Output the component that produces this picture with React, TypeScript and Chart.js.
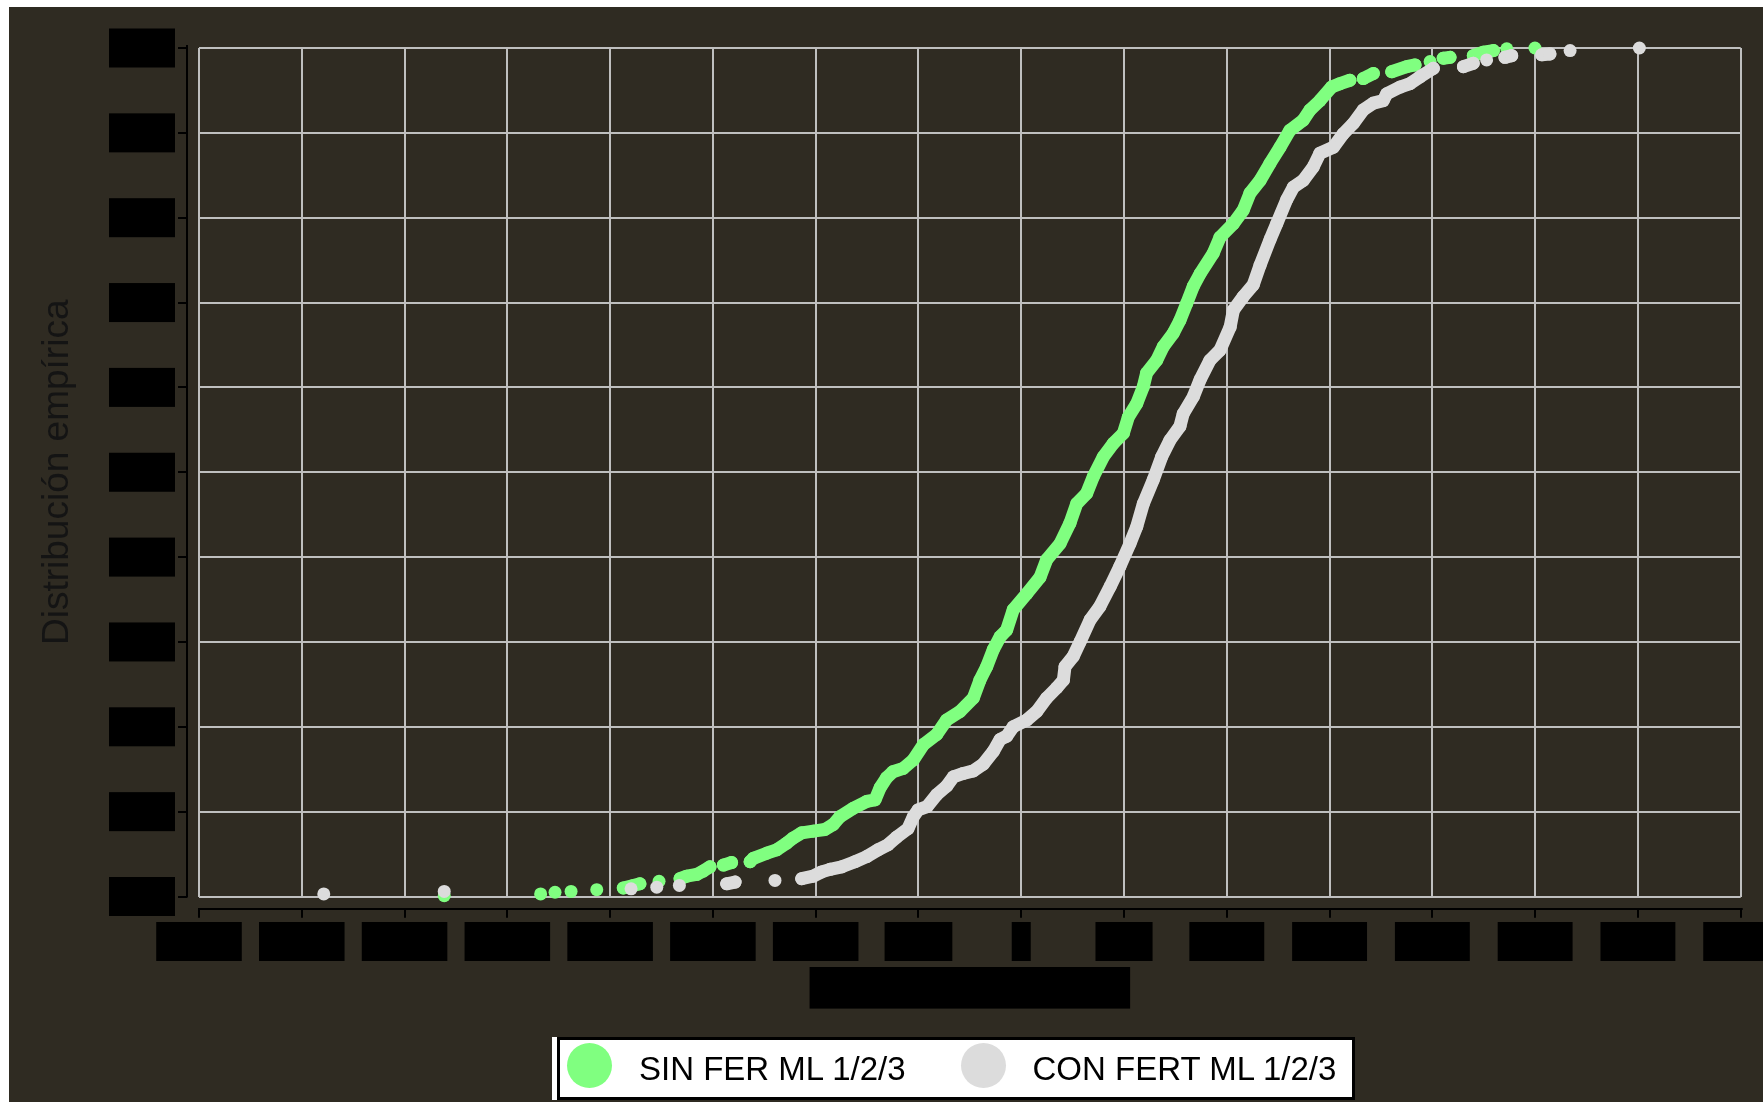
import React, { useEffect, useRef } from 'react';
import { Chart, registerables } from 'chart.js';

Chart.register(...registerables);

// ---------- data ----------
const SERIES_LABELS = ['SIN FER ML 1/2/3', 'CON FERT ML 1/2/3'];
const SERIES_COLORS = ['#80ff80', '#dcdcdc'];

const X_MIN = -400;
const X_MAX = 350;
const X_STEP = 50;
const Y_MIN = 0;
const Y_MAX = 1;
const Y_STEP = 0.1;

const X_TITLE = 'Diferencia (kg/ha)';
const Y_TITLE = 'Distribución empírica';

const sinFerX = [
  -280.7, -233.8, -226.8, -219.0, -206.5, -193.6, -188.7, -185.5, -176.2, -166.0,
  -162.7, -157.9, -154.7, -151.4, -144.9, -140.9, -131.9, -130.3, -123.8, -119.0,
  -114.1, -110.9, -106.8, -101.2, -95.5, -91.4, -88.2, -81.7, -75.2, -71.1,
  -68.7, -65.5, -62.4, -57.4, -52.5, -47.6, -41.1, -36.3, -29.8, -23.3,
  -20.1, -16.8, -13.6, -10.3, -7.1, -3.9, 2.7, 9.1, 12.4, 18.9,
  23.7, 27.0, 31.8, 35.1, 39.9, 44.8, 49.7, 52.1, 56.2, 59.4,
  61.0, 65.9, 69.1, 74.0, 77.2, 80.5, 83.7, 87.0, 93.4, 96.7,
  103.2, 108.0, 111.3, 116.2, 121.0, 125.9, 130.7, 137.2, 140.5, 145.3,
  151.0, 155.1, 159.9, 166.4, 171.3, 180.2, 187.5, 191.6, 198.9, 205.3,
  208.6, 219.9, 224.8, 229.7, 236.2, 249.9,
];
const sinFerY = [
  0.001, 0.003, 0.005, 0.006, 0.008, 0.010, 0.013, 0.015, 0.018, 0.021,
  0.024, 0.026, 0.030, 0.035, 0.037, 0.040, 0.041, 0.045, 0.051, 0.055,
  0.063, 0.069, 0.075, 0.077, 0.079, 0.085, 0.094, 0.104, 0.112, 0.114,
  0.128, 0.140, 0.147, 0.151, 0.161, 0.179, 0.191, 0.208, 0.218, 0.234,
  0.255, 0.271, 0.291, 0.306, 0.314, 0.338, 0.357, 0.376, 0.397, 0.416,
  0.440, 0.463, 0.475, 0.495, 0.518, 0.534, 0.546, 0.565, 0.581, 0.601,
  0.617, 0.632, 0.648, 0.664, 0.679, 0.699, 0.719, 0.734, 0.758, 0.777,
  0.793, 0.809, 0.829, 0.844, 0.864, 0.883, 0.903, 0.915, 0.927, 0.938,
  0.954, 0.958, 0.962, 0.964, 0.970, 0.972, 0.978, 0.980, 0.984, 0.988,
  0.989, 0.991, 0.995, 0.997, 0.999, 1.0,
];

const conFertX = [
  -339.3, -280.7, -189.8, -177.3, -166.3, -143.3, -139.2, -119.8, -106.8, -101.2,
  -97.1, -93.0, -87.3, -80.9, -75.2, -69.7, -64.8, -60.6, -55.1, -52.5,
  -50.2, -45.8, -41.1, -36.3, -33.0, -28.2, -23.3, -18.5, -13.6, -10.3,
  -7.1, -3.9, 2.7, 7.5, 12.4, 17.3, 20.5, 21.3, 25.3, 28.6,
  33.5, 38.3, 43.2, 48.0, 52.9, 56.2, 59.4, 64.2, 68.3, 72.4,
  77.2, 78.8, 83.7, 87.0, 91.8, 96.7, 101.6, 103.2, 108.0, 112.9,
  116.2, 121.0, 124.3, 129.1, 132.4, 137.2, 142.1, 145.3, 151.8, 156.7,
  161.5, 166.4, 171.3, 176.1, 177.8, 184.3, 189.1, 194.0, 200.5, 215.1,
  219.9, 226.4, 235.3, 238.6, 253.2, 257.2, 267.0, 300.7,
];
const conFertY = [
  0.003, 0.006, 0.009, 0.011, 0.013, 0.015, 0.017, 0.019, 0.021, 0.024,
  0.029, 0.032, 0.035, 0.041, 0.047, 0.055, 0.061, 0.070, 0.080, 0.094,
  0.102, 0.106, 0.120, 0.130, 0.141, 0.145, 0.148, 0.156, 0.171, 0.185,
  0.189, 0.200, 0.208, 0.218, 0.234, 0.246, 0.255, 0.271, 0.283, 0.300,
  0.326, 0.342, 0.365, 0.389, 0.416, 0.436, 0.463, 0.491, 0.518, 0.538,
  0.554, 0.569, 0.589, 0.609, 0.632, 0.644, 0.671, 0.691, 0.707, 0.721,
  0.744, 0.774, 0.793, 0.821, 0.836, 0.844, 0.860, 0.876, 0.883, 0.899,
  0.911, 0.927, 0.935, 0.938, 0.946, 0.954, 0.958, 0.966, 0.976, 0.978,
  0.982, 0.986, 0.989, 0.991, 0.992, 0.993, 0.997, 1.0,
];

// ---------- style ----------
const BG = '#2f2b22';
const GRID = '#bfbfbf';
const FONT = '"Liberation Sans", Arial, Helvetica, sans-serif';
const TICK_FONT_SIZE = 32;
const TICK_LINE_HEIGHT = 1.2;
const X_TICK_PADDING = 25.8;

const toPoints = (xs: number[], ys: number[]) => xs.map((x, i) => ({ x, y: ys[i] }));

const stataAxes = {
  id: 'stataAxes',
  beforeDraw(chart: any) {
    const xs = chart.scales.x;
    const ctx = chart.ctx;
    const lh = TICK_FONT_SIZE * TICK_LINE_HEIGHT;
    ctx.save();
    ctx.font = `${TICK_FONT_SIZE}px ${FONT}`;
    ctx.fillStyle = '#000';
    // x-axis title box
    const t = xs.options.title;
    const w = ctx.measureText(t.text).width + 68;
    const h = lh + 3.2;
    const cy = xs.bottom - lh / 2;
    const cx = (xs.left + xs.right) / 2;
    ctx.fillRect(cx - w / 2, cy - h / 2, w, h);
    // x tick label boxes
    for (const tk of xs.ticks) {
      const px = xs.getPixelForValue(tk.value);
      const tw = ctx.measureText(String(tk.label)).width;
      const pad = tk.value === 0 ? 0.6 : 10.75;
      const top = xs.top + X_TICK_PADDING - 0.3;
      ctx.fillRect(px - tw / 2 - pad, top, tw + 2 * pad, lh + 0.6);
    }
    ctx.restore();
  },
  afterDraw(chart: any) {
    const { left, right, top, bottom } = chart.chartArea;
    const xs = chart.scales.x;
    const ys = chart.scales.y;
    const ctx = chart.ctx;
    ctx.save();
    ctx.strokeStyle = '#000';
    ctx.lineWidth = 2;
    const ax = Math.round(left - 12);
    ctx.beginPath();
    ctx.moveTo(ax, top - 3);
    ctx.lineTo(ax, bottom + 1);
    for (const t of ys.ticks) {
      const py = Math.round(ys.getPixelForValue(t.value));
      ctx.moveTo(ax - 9, py);
      ctx.lineTo(ax, py);
    }
    const ay = Math.round(bottom + 12.8);
    ctx.moveTo(left - 1, ay);
    ctx.lineTo(right + 2, ay);
    for (const t of xs.ticks) {
      const px = Math.round(xs.getPixelForValue(t.value));
      ctx.moveTo(px, ay);
      ctx.lineTo(px, ay + 8.7);
    }
    ctx.stroke();
    ctx.restore();
  },
};

export default function App() {
  const canvasRef = useRef<HTMLCanvasElement>(null);

  useEffect(() => {
    const canvas = canvasRef.current;
    if (!canvas) return;
    Chart.defaults.font.family = FONT;

    const makeDataset = (i: number, xs: number[], ys: number[], order: number) => ({
      label: SERIES_LABELS[i],
      data: toPoints(xs, ys),
      backgroundColor: SERIES_COLORS[i],
      borderColor: SERIES_COLORS[i],
      pointRadius: 6.5,
      pointBorderWidth: 0,
      showLine: true,
      borderWidth: 13,
      borderCapStyle: 'round',
      borderJoinStyle: 'round',
      tension: 0,
      fill: false,
      clip: false,
      order,
      segment: {
        borderColor: (c: any) => {
          const dx = Math.abs(c.p1.x - c.p0.x);
          const dy = Math.abs(c.p1.y - c.p0.y);
          const dist = Math.hypot(dx, dy);
          const hidden = dist > 30 || dx > 17 || (dx > 12 && dy < 0.3 * dx);
          return hidden ? 'rgba(0,0,0,0)' : SERIES_COLORS[i];
        },
      },
    });

    const chart = new Chart(canvas, {
      type: 'scatter',
      data: {
        datasets: [
          makeDataset(0, sinFerX, sinFerY, 1),
          makeDataset(1, conFertX, conFertY, 0),
        ] as any,
      },
      options: {
        animation: false,
        responsive: false,
        events: [],
        layout: { padding: { top: 41, left: 0, right: 68.3, bottom: 95 } },
        plugins: {
          legend: { display: false },
          tooltip: { enabled: false },
        },
        scales: {
          x: {
            type: 'linear',
            min: X_MIN,
            max: X_MAX,
            afterFit: (s: any) => { s.height = 110.5; },
            border: { display: false },
            grid: { color: GRID, lineWidth: 2, drawTicks: false },
            ticks: {
              stepSize: X_STEP,
              autoSkip: false,
              maxRotation: 0,
              minRotation: 0,
              padding: X_TICK_PADDING,
              color: '#000',
              font: { size: TICK_FONT_SIZE, lineHeight: TICK_LINE_HEIGHT },
            },
            title: {
              display: true,
              text: X_TITLE,
              color: '#000',
              font: { size: 32, lineHeight: 1.2 },
              padding: { top: 0, bottom: 0 },
            },
          },
          y: {
            type: 'linear',
            min: Y_MIN,
            max: Y_MAX,
            afterFit: (s: any) => {
              s.width = 190;
              s.paddingTop = 0;
              s.paddingBottom = 0;
            },
            border: { display: false },
            grid: { color: GRID, lineWidth: 2, drawTicks: false },
            ticks: {
              stepSize: Y_STEP,
              padding: 34.75,
              color: '#000',
              font: { size: TICK_FONT_SIZE, lineHeight: TICK_LINE_HEIGHT },
              showLabelBackdrop: true,
              backdropColor: '#000',
              backdropPadding: { left: 10.75, right: 10.75, top: 0.3, bottom: 0.3 },
              callback: (v: any) => Number(v).toFixed(1),
            },
            title: {
              display: true,
              text: Y_TITLE,
              color: '#141414',
              font: { size: 37, lineHeight: 1.2 },
              padding: { top: 26.6, bottom: 0 },
            },
          },
        },
      } as any,
      plugins: [stataAxes],
    });
    return () => chart.destroy();
  }, []);

  return (
    <div
      style={{
        position: 'fixed',
        left: 9,
        top: 7,
        right: 0,
        bottom: 0,
        overflow: 'hidden',
        background: BG,
      }}
    >
      <canvas ref={canvasRef} width={1800} height={1095} style={{ display: 'block' }} />
      <div
        style={{
          position: 'absolute',
          left: 548,
          top: 1030,
          width: 798,
          height: 62.5,
          boxSizing: 'border-box',
          border: '3px solid #000',
          background: '#fff',
          boxShadow: '-5px 0 0 #fff',
          display: 'flex',
          alignItems: 'center',
          fontFamily: FONT,
          fontSize: 33,
          lineHeight: 1,
          color: '#000',
          whiteSpace: 'nowrap',
        }}
      >
        {SERIES_LABELS.map((label, i) => (
          <React.Fragment key={label}>
            <span
              style={{
                display: 'inline-block',
                width: 45,
                height: 45,
                borderRadius: '50%',
                background: SERIES_COLORS[i],
                marginLeft: i === 0 ? 7 : 55,
                position: 'relative',
                top: -3,
                flex: 'none',
              }}
            />
            <span style={{ marginLeft: 27 }}>{label}</span>
          </React.Fragment>
        ))}
      </div>
    </div>
  );
}
